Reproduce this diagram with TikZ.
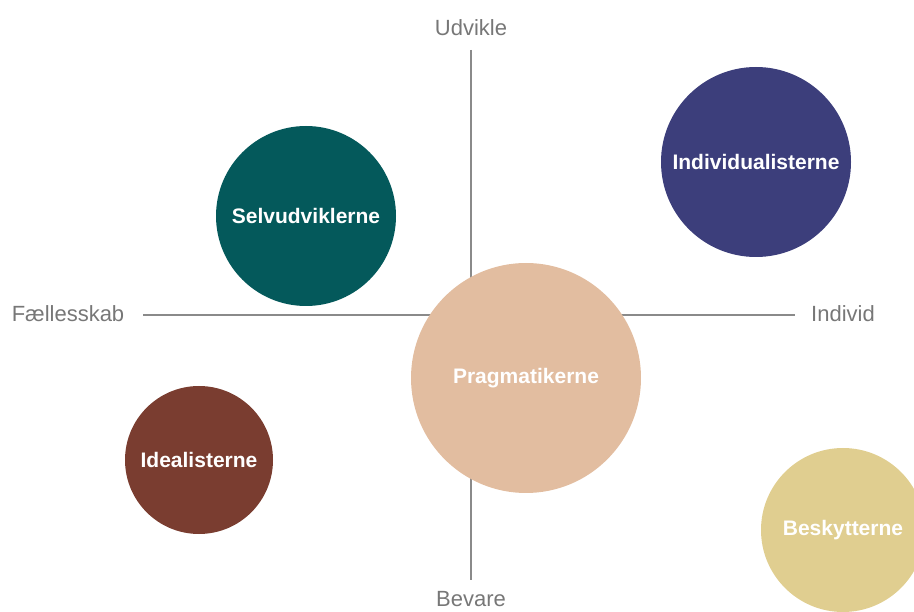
\documentclass[tikz,border=0pt]{standalone}
\usepackage{fontspec}
\setmainfont{Liberation Sans}
\definecolor{axisgray}{HTML}{8A8A8A}
\definecolor{labelgray}{HTML}{777777}
\definecolor{teal}{HTML}{04595B}
\definecolor{navy}{HTML}{3C3E7B}
\definecolor{peach}{HTML}{E2BDA0}
\definecolor{brown}{HTML}{7A3D30}
\definecolor{gold}{HTML}{E0CE90}
\begin{document}
\begin{tikzpicture}[x=1pt,y=-1pt,
  axislabel/.style={text=labelgray,font=\fontsize{22}{24}\selectfont,inner sep=0pt},
  axisline/.style={draw=axisgray,line width=1.6pt},
  group/.style={circle,inner sep=0pt,minimum size=#1,text=white,font=\fontsize{21}{24}\selectfont\bfseries}]
\useasboundingbox (0,0) rectangle (914,612);
\clip (0,0) rectangle (914,612);
% axis labels
\node[axislabel] (udvikle) at (471,28) {Udvikle};
\node[axislabel] (bevare) at (471,599) {Bevare};
\node[axislabel] (faelles) at (68,314) {Fællesskab};
\node[axislabel] (individ) at (843,314) {Individ};
% axis ends
\coordinate (top) at (471,50);
\coordinate (bottom) at (471,580);
\coordinate (left) at (143,315);
\coordinate (right) at (795,315);
\draw[axisline] (top) -- (bottom);
\draw[axisline] (left) -- (right);
% groups
\node[group=180pt,fill=teal] (selv) at (306,216) {Selvudviklerne};
\node[group=190pt,fill=navy] (indiv) at (756,162) {Individualisterne};
\node[group=230pt,fill=peach] (prag) at (526,378) {Pragmatikerne};
\node[group=148pt,fill=brown] (ideal) at (199,460) {Idealisterne};
\node[group=164pt,fill=gold] (besk) at (843,530) {Beskytterne};
\end{tikzpicture}
\end{document}
